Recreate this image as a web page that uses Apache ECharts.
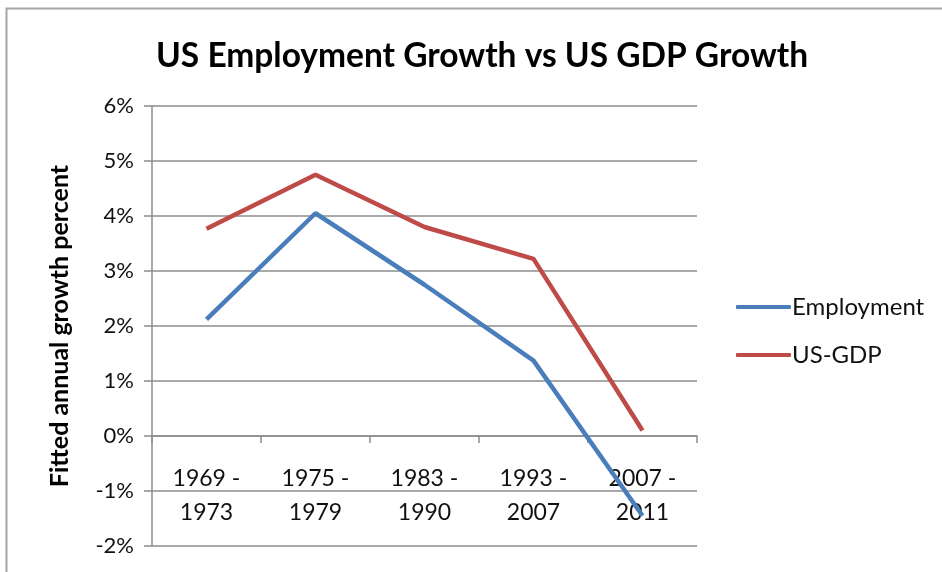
<!DOCTYPE html>
<html>
<head>
<meta charset="utf-8">
<script src="https://cdn.jsdelivr.net/npm/echarts@6/dist/echarts.min.js"></script>
<style>
  html, body { margin: 0; padding: 0; background: #fff; }
  #chart { width: 942px; height: 572px; }
</style>
</head>
<body>
<div id="chart"></div>
<script>
var periods = ['1969 -\n1973', '1975 -\n1979', '1983 -\n1990', '1993 -\n2007', '2007 -\n2011'];
var employment = [2.12, 4.05, 2.75, 1.37, -1.45];
var usGdp = [3.77, 4.75, 3.8, 3.22, 0.1];

var chart = echarts.init(document.getElementById('chart'));
var font = 'Lato, "Open Sans", sans-serif';

var option = {
    backgroundColor: '#fff',
    animation: false,
    textStyle: { fontFamily: font },
    graphic: [{
        type: 'rect',
        shape: { x: 6.5, y: 8.5, width: 1000, height: 1000 },
        style: { fill: 'none', stroke: '#a6a6a6', lineWidth: 2 },
        silent: true
    }],
    title: {
        text: 'US Employment Growth vs US GDP Growth',
        left: 151,
        top: 34,
        textStyle: { fontFamily: font, fontSize: 33.5, fontWeight: 'bold', color: '#000' }
    },
    legend: {
        orient: 'vertical',
        left: 731,
        top: 290,
        itemWidth: 55,
        itemHeight: 4,
        itemGap: 24,
        icon: 'roundRect',
        textStyle: { fontFamily: font, fontSize: 24, color: '#111', padding: [0, 0, 0, -4] },
        data: ['Employment', 'US-GDP']
    },
    grid: { left: 152, right: 245, top: 106, bottom: 26, containLabel: false, outerBoundsMode: 'none' },
    xAxis: {
        type: 'category',
        data: periods,
        boundaryGap: true,
        axisLine: { onZero: true, lineStyle: { color: '#8c8c8c', width: 1.5 } },
        axisTick: { show: true, length: 7, lineStyle: { color: '#8c8c8c', width: 1.5 } },
        // labels sit under the zero line, not under the grid bottom
        axisLabel: { margin: -84, fontSize: 23, lineHeight: 34, color: '#111', interval: 0 }
    },
    yAxis: {
        type: 'value',
        min: -2,
        max: 6,
        interval: 1,
        name: 'Fitted annual growth percent',
        nameLocation: 'middle',
        nameGap: 80,
        nameTextStyle: { fontFamily: font, fontSize: 25, fontWeight: 'bold', color: '#000' },
        axisLine: { show: true, lineStyle: { color: '#8c8c8c', width: 1.5 } },
        axisTick: { show: true, length: 8, lineStyle: { color: '#8c8c8c', width: 1.5 } },
        axisLabel: { margin: 18, fontSize: 22, color: '#111', formatter: '{value}%' },
        splitLine: { lineStyle: { color: '#8c8c8c', width: 1.5 } }
    },
    series: [
        {
            name: 'Employment',
            type: 'line',
            data: employment,
            symbol: 'none',
            lineStyle: { width: 4.5, color: '#4a7ebb' },
            itemStyle: { color: '#4a7ebb' }
        },
        {
            name: 'US-GDP',
            type: 'line',
            data: usGdp,
            symbol: 'none',
            lineStyle: { width: 4.5, color: '#be4b48' },
            itemStyle: { color: '#be4b48' }
        }
    ]
};
chart.setOption(option);
</script>
</body>
</html>
